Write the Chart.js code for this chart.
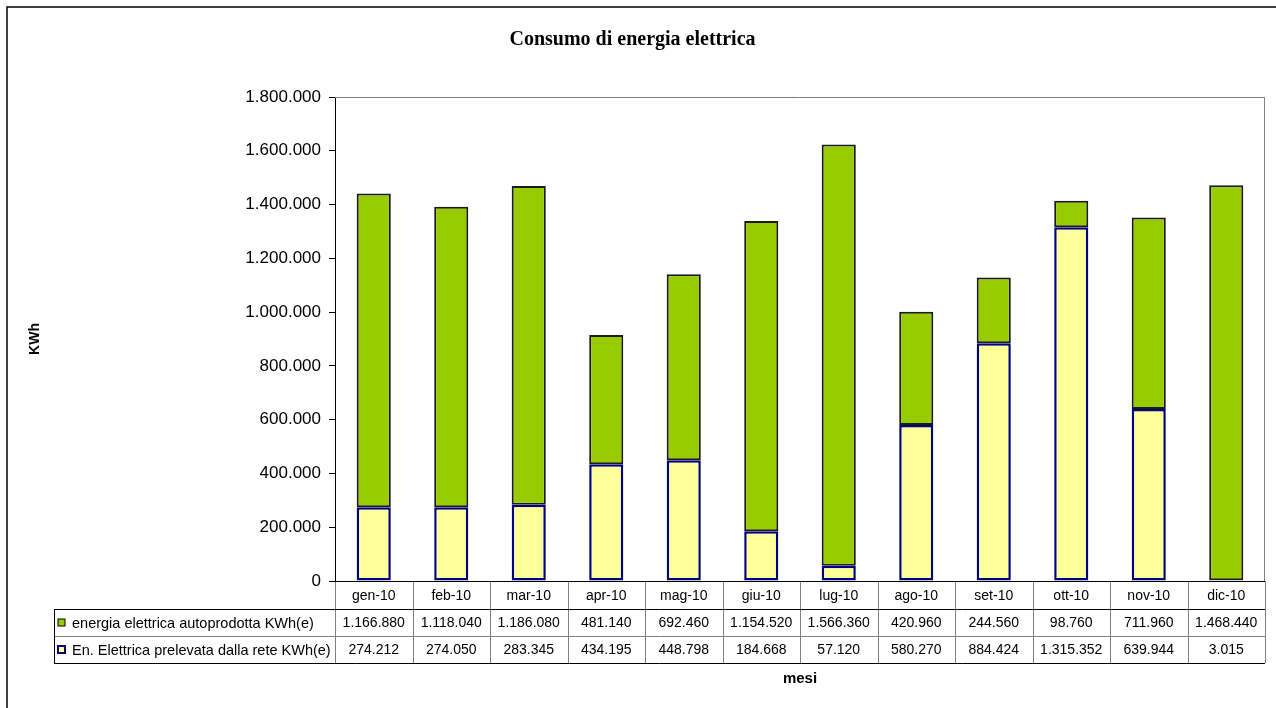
<!DOCTYPE html>
<html>
<head>
<meta charset="utf-8">
<title>Consumo di energia elettrica</title>
<script src="https://cdn.jsdelivr.net/npm/chart.js"></script>
<style>
  html, body { margin: 0; padding: 0; background: #fff; }
  #wrap { width: 1276px; height: 708px; position: relative; }
</style>
</head>
<body>
<div id="wrap"><canvas id="consumoChart"></canvas></div>
<script>
// mesi 2010
const mesi = ['gen-10', 'feb-10', 'mar-10', 'apr-10', 'mag-10', 'giu-10',
  'lug-10', 'ago-10', 'set-10', 'ott-10', 'nov-10', 'dic-10'];

// KWh(e)
const autoprodotta = [1166880, 1118040, 1186080, 481140, 692460, 1154520,
  1566360, 420960, 244560, 98760, 711960, 1468440];
const prelevata = [274212, 274050, 283345, 434195, 448798, 184668,
  57120, 580270, 884424, 1315352, 639944, 3015];

const labelAuto = 'energia elettrica autoprodotta KWh(e)';
const labelRete = 'En. Elettrica prelevata dalla rete KWh(e)';

const yMax = 1800000;
const yStep = 200000;

// 1234567 -> "1.234.567"
function fmt(v) {
  return String(Math.round(v)).replace(/\B(?=(\d{3})+(?!\d))/g, '.');
}

const SANS = '"Liberation Sans", Arial, sans-serif';

// border around the whole chart + plot area frame
const framePlugin = {
  id: 'frame',
  beforeDraw(chart) {
    const ctx = chart.ctx;
    ctx.save();
    ctx.fillStyle = '#fff';
    ctx.fillRect(0, 0, chart.width, chart.height);
    ctx.strokeStyle = '#000';
    ctx.lineWidth = 1.5;
    ctx.strokeRect(7, 7, chart.width + 10, chart.height + 10);
    ctx.restore();
  },
  afterDatasetsDraw(chart) {
    const {ctx, chartArea: a} = chart;
    ctx.save();
    ctx.strokeStyle = '#808080';
    ctx.lineWidth = 1;
    ctx.beginPath();
    ctx.moveTo(a.left, a.top + 0.5);
    ctx.lineTo(a.right - 0.5, a.top + 0.5);
    ctx.lineTo(a.right - 0.5, a.bottom);
    ctx.stroke();
    ctx.restore();
  }
};

// data table under the plot (months, values, legend keys)
const tablePlugin = {
  id: 'dataTable',
  afterDraw(chart) {
    const {ctx, chartArea: a, scales: {x}} = chart;
    const n = mesi.length;
    const w = (a.right - a.left) / n;
    const rows = [a.bottom, a.bottom + 28, a.bottom + 55, a.bottom + 82];
    const tableLeft = 54;

    ctx.save();
    ctx.lineWidth = 1;

    // vertical separators
    ctx.strokeStyle = '#808080';
    ctx.beginPath();
    for (let i = 0; i <= n; i++) {
      const px = Math.round(a.left + i * w) + 0.5;
      ctx.moveTo(px, rows[0]);
      ctx.lineTo(px, rows[3]);
    }
    ctx.moveTo(tableLeft, rows[2] + 0.5);
    ctx.lineTo(a.right, rows[2] + 0.5);
    ctx.stroke();

    // outer lines
    ctx.strokeStyle = '#000';
    ctx.beginPath();
    ctx.moveTo(a.left, rows[0] + 0.5);
    ctx.lineTo(a.right, rows[0] + 0.5);
    ctx.moveTo(tableLeft, rows[1] + 0.5);
    ctx.lineTo(a.right, rows[1] + 0.5);
    ctx.moveTo(tableLeft, rows[3] + 0.5);
    ctx.lineTo(a.right, rows[3] + 0.5);
    ctx.moveTo(tableLeft + 0.5, rows[1]);
    ctx.lineTo(tableLeft + 0.5, rows[3]);
    ctx.stroke();

    ctx.fillStyle = '#000';
    ctx.font = '14px ' + SANS;
    ctx.textAlign = 'center';
    ctx.textBaseline = 'middle';
    const series = [autoprodotta, prelevata];
    for (let i = 0; i < n; i++) {
      const cx = x.getPixelForValue(i);
      ctx.fillText(mesi[i], cx, (rows[0] + rows[1]) / 2 + 1);
      series.forEach((s, r) => {
        ctx.fillText(fmt(s[i]), cx, (rows[r + 1] + rows[r + 2]) / 2 + 1);
      });
    }

    // legend keys
    const keys = [
      {text: labelAuto, fill: '#99CC00', stroke: '#000', lw: 1},
      {text: labelRete, fill: '#FFFF99', stroke: '#000080', lw: 2}
    ];
    ctx.font = '14.5px ' + SANS;
    keys.forEach((k, r) => {
      const cy = (rows[r + 1] + rows[r + 2]) / 2;
      ctx.fillStyle = k.fill;
      ctx.fillRect(58, cy - 3.5, 7, 7);
      ctx.strokeStyle = k.stroke;
      ctx.lineWidth = k.lw;
      ctx.strokeRect(58, cy - 3.5, 7, 7);
      ctx.fillStyle = '#000';
      ctx.textAlign = 'left';
      ctx.fillText(k.text, 72, cy + 1);
    });

    // x axis title
    ctx.font = 'bold 15px ' + SANS;
    ctx.textAlign = 'center';
    ctx.fillText('mesi', (a.left + a.right) / 2, rows[3] + 16);
    ctx.restore();
  }
};

new Chart(document.getElementById('consumoChart'), {
  type: 'bar',
  data: {
    labels: mesi,
    datasets: [
      {
        label: labelRete,
        data: prelevata,
        backgroundColor: '#FFFF99',
        borderColor: '#000080',
        borderWidth: 2.5,
        borderSkipped: false,
        categoryPercentage: 1,
        barPercentage: 0.44
      },
      {
        label: labelAuto,
        data: autoprodotta,
        backgroundColor: '#99CC00',
        borderColor: '#1a1a1a',
        borderWidth: 2,
        borderSkipped: false,
        categoryPercentage: 1,
        barPercentage: 0.44
      }
    ]
  },
  options: {
    responsive: true,
    maintainAspectRatio: false,
    animation: false,
    layout: { padding: { top: 0, left: 0, right: 11, bottom: 127 } },
    plugins: {
      legend: { display: false },
      tooltip: { enabled: false },
      title: {
        display: true,
        text: 'Consumo di energia elettrica',
        color: '#000',
        font: { family: '"Liberation Serif", "Times New Roman", serif', size: 20, weight: 'bold' },
        padding: { top: 28, bottom: 45 }
      }
    },
    scales: {
      x: {
        display: false,
        stacked: true
      },
      y: {
        stacked: true,
        min: 0,
        max: yMax,
        afterFit(scale) { scale.width = 335; },
        border: { display: true, color: '#000', width: 1 },
        grid: { display: true, drawOnChartArea: false, drawTicks: true, tickLength: 6, color: '#000' },
        ticks: {
          stepSize: yStep,
          color: '#000',
          padding: 8,
          font: { family: SANS, size: 17 },
          callback: v => fmt(v)
        },
        title: {
          display: true,
          text: 'KWh',
          color: '#000',
          font: { family: SANS, size: 14, weight: 'bold' },
          padding: { top: 27, bottom: 0 }
        }
      }
    }
  },
  plugins: [framePlugin, tablePlugin]
});
</script>
</body>
</html>
